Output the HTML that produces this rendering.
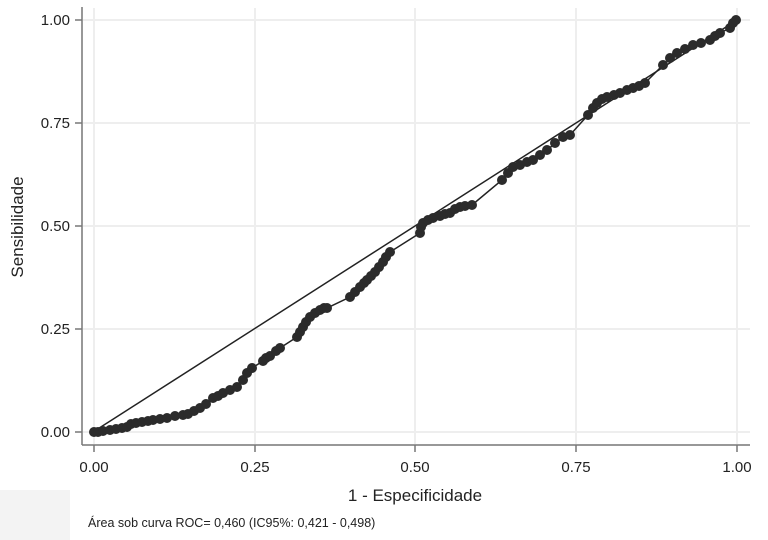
<!DOCTYPE html>
<html><head><meta charset="utf-8"><style>
body{margin:0;background:#fff;}
svg{display:block;font-family:"Liberation Sans",sans-serif;}
</style></head><body>
<svg width="768" height="540" viewBox="0 0 768 540">
<rect x="0" y="0" width="768" height="540" fill="#fff"/>
<rect x="0" y="490" width="70" height="50" fill="#f3f3f3"/>
<g stroke="#eeeeee" stroke-width="2">
<line x1="94" y1="8" x2="94" y2="444"/>
<line x1="255" y1="8" x2="255" y2="444"/>
<line x1="415" y1="8" x2="415" y2="444"/>
<line x1="576" y1="8" x2="576" y2="444"/>
<line x1="737" y1="8" x2="737" y2="444"/>
<line x1="83" y1="20" x2="750" y2="20"/>
<line x1="83" y1="123" x2="750" y2="123"/>
<line x1="83" y1="226" x2="750" y2="226"/>
<line x1="83" y1="329" x2="750" y2="329"/>
<line x1="83" y1="432" x2="750" y2="432"/>
</g>
<g stroke="#777" stroke-width="1.5">
<line x1="82" y1="7" x2="82" y2="445"/>
<line x1="82" y1="445" x2="750" y2="445"/>
<line x1="75" y1="20" x2="82" y2="20"/><line x1="75" y1="123" x2="82" y2="123"/><line x1="75" y1="226" x2="82" y2="226"/><line x1="75" y1="329" x2="82" y2="329"/><line x1="75" y1="432" x2="82" y2="432"/>
<line x1="94" y1="445" x2="94" y2="452"/><line x1="255" y1="445" x2="255" y2="452"/><line x1="415" y1="445" x2="415" y2="452"/><line x1="576" y1="445" x2="576" y2="452"/><line x1="737" y1="445" x2="737" y2="452"/>
</g>
<g font-size="15" fill="#222" text-anchor="end">
<text x="70" y="25">1.00</text><text x="70" y="128">0.75</text><text x="70" y="231">0.50</text><text x="70" y="334">0.25</text><text x="70" y="437">0.00</text>
</g>
<g font-size="15" fill="#222" text-anchor="middle">
<text x="94" y="472">0.00</text><text x="255" y="472">0.25</text><text x="415" y="472">0.50</text><text x="576" y="472">0.75</text><text x="737" y="472">1.00</text>
</g>
<text x="415" y="501" font-size="17" fill="#222" text-anchor="middle">1 - Especificidade</text>
<text transform="translate(23,227) rotate(-90)" font-size="17" fill="#222" text-anchor="middle">Sensibilidade</text>
<text x="88" y="527" font-size="12.5" fill="#222">Área sob curva ROC= 0,460 (IC95%: 0,421 - 0,498)</text>
<line x1="93" y1="432" x2="737" y2="20" stroke="#222" stroke-width="1.5"/>
<polyline fill="none" stroke="#222" stroke-width="1.5" points="94,432 110,430 127,427 133,423 153,420 167,418 183,415 200,408 213,398 223,393 237,387 243,380 252,368 263,361 270,356 280,348 297,337 303,327 310,317 320,310 327,308 350,297 360,287 367,280 375,272 383,262 390,252 420,233 423,223 433,218 450,213 460,207 472,205 502,180 513,167 533,160 547,150 563,137 570,135 588,115 597,103 607,97 620,93 633,88 645,83 663,65 677,53 693,45 710,40 720,33 730,28 736,20"/>
<g fill="#2b2b2b">
<circle cx="94" cy="432" r="5"/><circle cx="98" cy="432" r="5"/><circle cx="103" cy="431" r="5"/><circle cx="110" cy="430" r="5"/><circle cx="116" cy="429" r="5"/><circle cx="122" cy="428" r="5"/><circle cx="127" cy="427" r="5"/><circle cx="131" cy="424" r="5"/><circle cx="136" cy="423" r="5"/><circle cx="142" cy="422" r="5"/><circle cx="148" cy="421" r="5"/><circle cx="153" cy="420" r="5"/><circle cx="160" cy="419" r="5"/><circle cx="167" cy="418" r="5"/><circle cx="175" cy="416" r="5"/><circle cx="183" cy="415" r="5"/><circle cx="188" cy="414" r="5"/><circle cx="194" cy="411" r="5"/><circle cx="200" cy="408" r="5"/><circle cx="206" cy="404" r="5"/><circle cx="213" cy="398" r="5"/><circle cx="218" cy="396" r="5"/><circle cx="223" cy="393" r="5"/><circle cx="230" cy="390" r="5"/><circle cx="237" cy="387" r="5"/><circle cx="243" cy="380" r="5"/><circle cx="247" cy="373" r="5"/><circle cx="252" cy="368" r="5"/><circle cx="263" cy="361" r="5"/><circle cx="266" cy="358" r="5"/><circle cx="270" cy="356" r="5"/><circle cx="276" cy="351" r="5"/><circle cx="280" cy="348" r="5"/><circle cx="297" cy="337" r="5"/><circle cx="300" cy="332" r="5"/><circle cx="303" cy="327" r="5"/><circle cx="306" cy="322" r="5"/><circle cx="310" cy="317" r="5"/><circle cx="315" cy="313" r="5"/><circle cx="320" cy="310" r="5"/><circle cx="324" cy="308" r="5"/><circle cx="327" cy="308" r="5"/><circle cx="350" cy="297" r="5"/><circle cx="355" cy="292" r="5"/><circle cx="360" cy="287" r="5"/><circle cx="364" cy="283" r="5"/><circle cx="367" cy="280" r="5"/><circle cx="371" cy="276" r="5"/><circle cx="375" cy="272" r="5"/><circle cx="379" cy="267" r="5"/><circle cx="383" cy="262" r="5"/><circle cx="386" cy="257" r="5"/><circle cx="390" cy="252" r="5"/><circle cx="420" cy="233" r="5"/><circle cx="421" cy="227" r="5"/><circle cx="423" cy="223" r="5"/><circle cx="428" cy="220" r="5"/><circle cx="433" cy="218" r="5"/><circle cx="440" cy="216" r="5"/><circle cx="445" cy="214" r="5"/><circle cx="450" cy="213" r="5"/><circle cx="455" cy="209" r="5"/><circle cx="460" cy="207" r="5"/><circle cx="465" cy="206" r="5"/><circle cx="472" cy="205" r="5"/><circle cx="502" cy="180" r="5"/><circle cx="508" cy="173" r="5"/><circle cx="513" cy="167" r="5"/><circle cx="520" cy="165" r="5"/><circle cx="527" cy="162" r="5"/><circle cx="533" cy="160" r="5"/><circle cx="540" cy="155" r="5"/><circle cx="547" cy="150" r="5"/><circle cx="555" cy="143" r="5"/><circle cx="563" cy="137" r="5"/><circle cx="570" cy="135" r="5"/><circle cx="588" cy="115" r="5"/><circle cx="593" cy="108" r="5"/><circle cx="597" cy="103" r="5"/><circle cx="602" cy="99" r="5"/><circle cx="607" cy="97" r="5"/><circle cx="614" cy="95" r="5"/><circle cx="620" cy="93" r="5"/><circle cx="627" cy="90" r="5"/><circle cx="633" cy="88" r="5"/><circle cx="639" cy="86" r="5"/><circle cx="645" cy="83" r="5"/><circle cx="663" cy="65" r="5"/><circle cx="670" cy="58" r="5"/><circle cx="677" cy="53" r="5"/><circle cx="685" cy="49" r="5"/><circle cx="693" cy="45" r="5"/><circle cx="701" cy="43" r="5"/><circle cx="710" cy="40" r="5"/><circle cx="715" cy="36" r="5"/><circle cx="720" cy="33" r="5"/><circle cx="730" cy="28" r="5"/><circle cx="733" cy="23" r="5"/><circle cx="736" cy="20" r="5"/>
</g>
</svg>
</body></html>
